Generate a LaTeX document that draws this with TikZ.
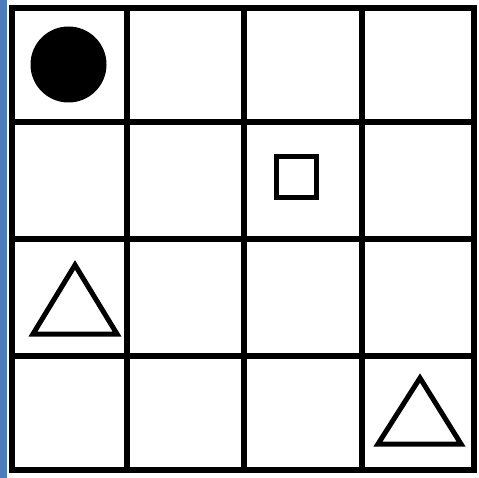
\documentclass[tikz,border=0pt]{standalone}
\definecolor{edgeblue}{RGB}{76,124,188}
\begin{document}
\begin{tikzpicture}[x=1pt,y=-1pt,
  gridline/.style={line width=5.5pt,line cap=rect},
  shapeline/.style={line width=5pt,line join=miter}]
\useasboundingbox (0,0) rectangle (479,478);
\fill[white] (0,0) rectangle (479,478);
\fill[edgeblue] (0,0) rectangle (7,478);
% grid
\foreach \x in {12,127,244,362,474} \draw[gridline] (\x,8) -- (\x,470);
\foreach \y in {8,122,239,356,470} \draw[gridline] (12,\y) -- (474,\y);
% shapes
\fill[black] (68.5,64.5) circle (38);
\draw[shapeline] (276,157) rectangle (316,198);
\draw[shapeline] (75,265) -- (117,334) -- (33,334) -- cycle;
\draw[shapeline] (420,378) -- (461,444) -- (378,444) -- cycle;
\end{tikzpicture}
\end{document}
